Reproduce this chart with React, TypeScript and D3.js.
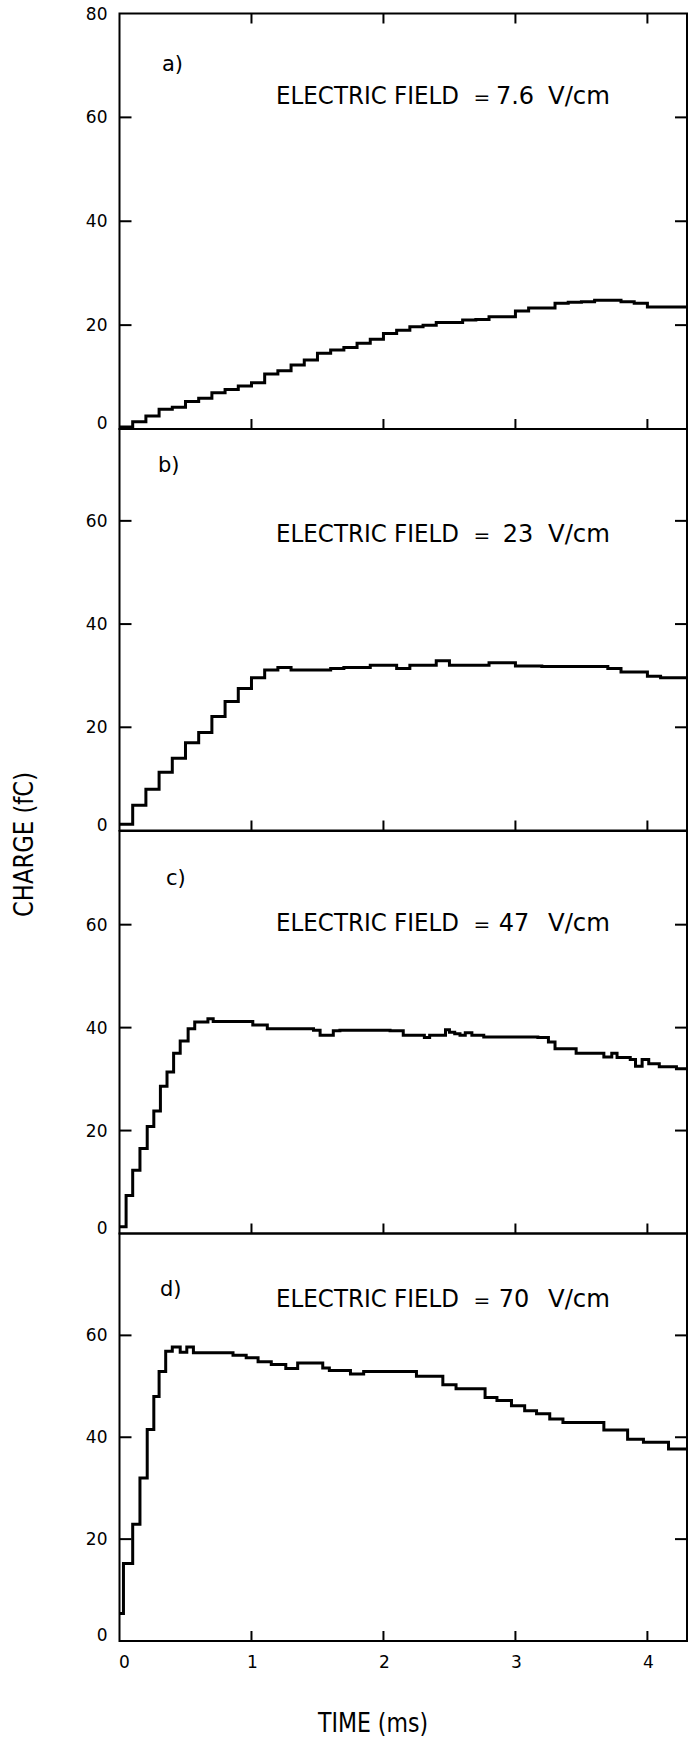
import React from 'react';
import * as d3 from 'd3';

// ---------- data ----------
const timeTicks = [1, 2, 3, 4];
const timeLabels = [0, 1, 2, 3, 4];
const fieldValues = ['7.6', '23', '47', '70'];
const panelLetters = ['a)', 'b)', 'c)', 'd)'];
const yTicksA = [0, 20, 40, 60, 80];
const yTicksBCD = [0, 20, 40, 60];

const timesA = [0, 0.1, 0.2, 0.3, 0.4, 0.5, 0.6, 0.7, 0.8, 0.9, 1.0, 1.1, 1.2, 1.3, 1.4, 1.5, 1.6, 1.7, 1.8, 1.9, 2.0, 2.1, 2.2, 2.3, 2.4, 2.5, 2.6, 2.7, 2.8, 2.9, 3.0, 3.1, 3.2, 3.3, 3.4, 3.5, 3.6, 3.7, 3.8, 3.9, 4.0, 4.1, 4.2, 4.3];
const chargeA = [0.4, 1.4, 2.5, 3.8, 4.2, 5.3, 5.9, 7.0, 7.6, 8.3, 8.9, 10.6, 11.2, 12.3, 13.3, 14.6, 15.2, 15.7, 16.5, 17.3, 18.4, 19.0, 19.7, 20.0, 20.5, 20.5, 21.0, 21.1, 21.6, 21.6, 22.7, 23.3, 23.3, 24.2, 24.4, 24.5, 24.8, 24.8, 24.5, 24.2, 23.5, 23.5, 23.5, 23.5];

const timesB = [0, 0.1, 0.2, 0.3, 0.4, 0.5, 0.6, 0.7, 0.8, 0.9, 1.0, 1.1, 1.2, 1.3, 1.4, 1.5, 1.6, 1.7, 1.8, 1.9, 2.0, 2.1, 2.2, 2.3, 2.4, 2.5, 2.6, 2.7, 2.8, 2.9, 3.0, 3.1, 3.2, 3.3, 3.4, 3.5, 3.6, 3.7, 3.8, 3.9, 4.0, 4.1, 4.2, 4.3];
const chargeB = [1.2, 4.9, 8.0, 11.3, 14.0, 17.0, 19.0, 22.1, 25.0, 27.5, 29.6, 31.1, 31.6, 31.1, 31.1, 31.1, 31.4, 31.6, 31.6, 32.0, 32.0, 31.4, 32.0, 32.0, 32.9, 32.0, 32.0, 32.0, 32.5, 32.5, 31.9, 31.9, 31.8, 31.8, 31.8, 31.8, 31.8, 31.4, 30.7, 30.7, 29.9, 29.6, 29.6, 29.6];

const timesC = [0, 0.05, 0.10, 0.155, 0.21, 0.26, 0.31, 0.36, 0.41, 0.46, 0.52, 0.57, 0.67, 0.71, 1.01, 1.12, 1.47, 1.52, 1.62, 1.67, 2.05, 2.15, 2.31, 2.35, 2.47, 2.50, 2.54, 2.58, 2.62, 2.67, 2.76, 3.17, 3.25, 3.30, 3.46, 3.67, 3.73, 3.77, 3.87, 3.91, 3.96, 4.01, 4.09, 4.22, 4.30];
const chargeC = [1.3, 7.4, 12.3, 16.5, 20.8, 23.8, 28.6, 31.4, 35.0, 37.4, 39.8, 41.1, 41.7, 41.2, 40.5, 39.8, 39.5, 38.5, 39.4, 39.5, 39.4, 38.5, 38.1, 38.5, 39.6, 39.1, 38.8, 38.5, 39.0, 38.5, 38.2, 38.1, 37.2, 35.9, 35.0, 34.3, 35.0, 34.2, 33.8, 32.5, 33.8, 33.0, 32.4, 32.0, 32.0];

const timesD = [0, 0.03, 0.10, 0.155, 0.21, 0.26, 0.30, 0.35, 0.40, 0.46, 0.51, 0.56, 0.86, 0.96, 1.05, 1.15, 1.26, 1.35, 1.54, 1.59, 1.75, 1.85, 2.25, 2.45, 2.55, 2.77, 2.86, 2.97, 3.07, 3.16, 3.26, 3.36, 3.67, 3.85, 3.97, 4.16, 4.30];
const chargeD = [5.4, 15.2, 22.9, 32.0, 41.5, 48.0, 52.9, 56.9, 57.7, 56.7, 57.7, 56.6, 56.1, 55.6, 54.8, 54.3, 53.5, 54.6, 53.6, 53.1, 52.4, 52.9, 52.0, 50.3, 49.5, 47.8, 47.2, 46.2, 45.2, 44.6, 43.6, 42.9, 41.4, 39.6, 39.0, 37.7, 37.7];

const timeMax = 4.3;

// ---------- layout ----------
const X0 = 119.5;
const X1 = 687;
const panels = [
  { top: 13.5, bottom: 429, yMax: 80, times: timesA, charge: chargeA, ticks: yTicksA, letterX: 162, letterY: 71, textY: 103.5, numX: 515 },
  { top: 429, bottom: 830.5, yMax: 77.8, times: timesB, charge: chargeB, ticks: yTicksBCD, letterX: 158, letterY: 472, textY: 542, numX: 518 },
  { top: 831, bottom: 1233.5, yMax: 78.2, times: timesC, charge: chargeC, ticks: yTicksBCD, letterX: 166, letterY: 885, textY: 931, numX: 514 },
  { top: 1233.5, bottom: 1641, yMax: 80, times: timesD, charge: chargeD, ticks: yTicksBCD, letterX: 160, letterY: 1296, textY: 1306.5, numX: 514 },
];

export default function App() {
  const x = d3.scaleLinear().domain([0, timeMax]).range([X0, X1]);
  const font = "'DejaVu Sans', 'Liberation Sans', sans-serif";
  return (
    <svg
      width={690}
      height={1744}
      style={{ position: 'absolute', left: 0, top: 0, background: '#fff' }}
      fontFamily={font}
    >
      <rect x={0} y={0} width={690} height={1744} fill="#fff" />
      {panels.map((p, i) => {
        const y = d3.scaleLinear().domain([0, p.yMax]).range([p.bottom, p.top]);
        const line = d3
          .line<number>()
          .x((_, j) => x(p.times[j]))
          .y((d) => y(d))
          .curve(d3.curveStepAfter);
        const inner = p.ticks.filter((t) => t > 0 && t < p.yMax - 1);
        return (
          <g key={i}>
            <path d={line(p.charge) || ''} fill="none" stroke="#000" strokeWidth={3} strokeLinejoin="miter" />
            <rect x={X0} y={p.top} width={X1 - X0} height={p.bottom - p.top} fill="none" stroke="#000" strokeWidth={2} />
            {inner.map((t) => (
              <g key={'yt' + t}>
                <line x1={X0} x2={X0 + 12} y1={y(t)} y2={y(t)} stroke="#000" strokeWidth={2} />
                <line x1={X1 - 12} x2={X1} y1={y(t)} y2={y(t)} stroke="#000" strokeWidth={2} />
              </g>
            ))}
            {timeTicks.map((t) => (
              <line key={'xb' + t} x1={x(t)} x2={x(t)} y1={p.bottom} y2={p.bottom - 10} stroke="#000" strokeWidth={2} />
            ))}
            {i === 0 &&
              timeTicks.map((t) => (
                <line key={'xt' + t} x1={x(t)} x2={x(t)} y1={p.top} y2={p.top + 10} stroke="#000" strokeWidth={2} />
              ))}
            {p.ticks.map((t) => (
              <text key={'yl' + t} x={107.5} y={y(t) + 6 - (t === 0 ? 6 : 0)} fontSize={17} textAnchor="end" fill="#000">
                {t}
              </text>
            ))}
            <text x={p.letterX} y={p.letterY} fontSize={21} fill="#000">
              {panelLetters[i]}
            </text>
            <text x={276} y={p.textY} fontSize={24} textLength={183} lengthAdjust="spacingAndGlyphs" fill="#000">
              ELECTRIC FIELD
            </text>
            <text x={482} y={p.textY} fontSize={20} textAnchor="middle" fill="#000">
              =
            </text>
            <text x={p.numX} y={p.textY} fontSize={24} textAnchor="middle" fill="#000">
              {fieldValues[i]}
            </text>
            <text x={548} y={p.textY} fontSize={24} textLength={62} lengthAdjust="spacingAndGlyphs" fill="#000">
              V/cm
            </text>
          </g>
        );
      })}
      {timeLabels.map((t) => (
        <text key={'xl' + t} x={x(t) + (t === 0 ? 5 : 1)} y={1668} fontSize={17} textAnchor="middle" fill="#000">
          {t}
        </text>
      ))}
      <text x={373} y={1732} fontSize={26} textAnchor="middle" textLength={110} lengthAdjust="spacingAndGlyphs" fill="#000">
        TIME (ms)
      </text>
      <text
        transform="translate(33,844.5) rotate(-90)"
        fontSize={26}
        textAnchor="middle"
        textLength={145}
        lengthAdjust="spacingAndGlyphs"
        fill="#000"
      >
        CHARGE (fC)
      </text>
    </svg>
  );
}
